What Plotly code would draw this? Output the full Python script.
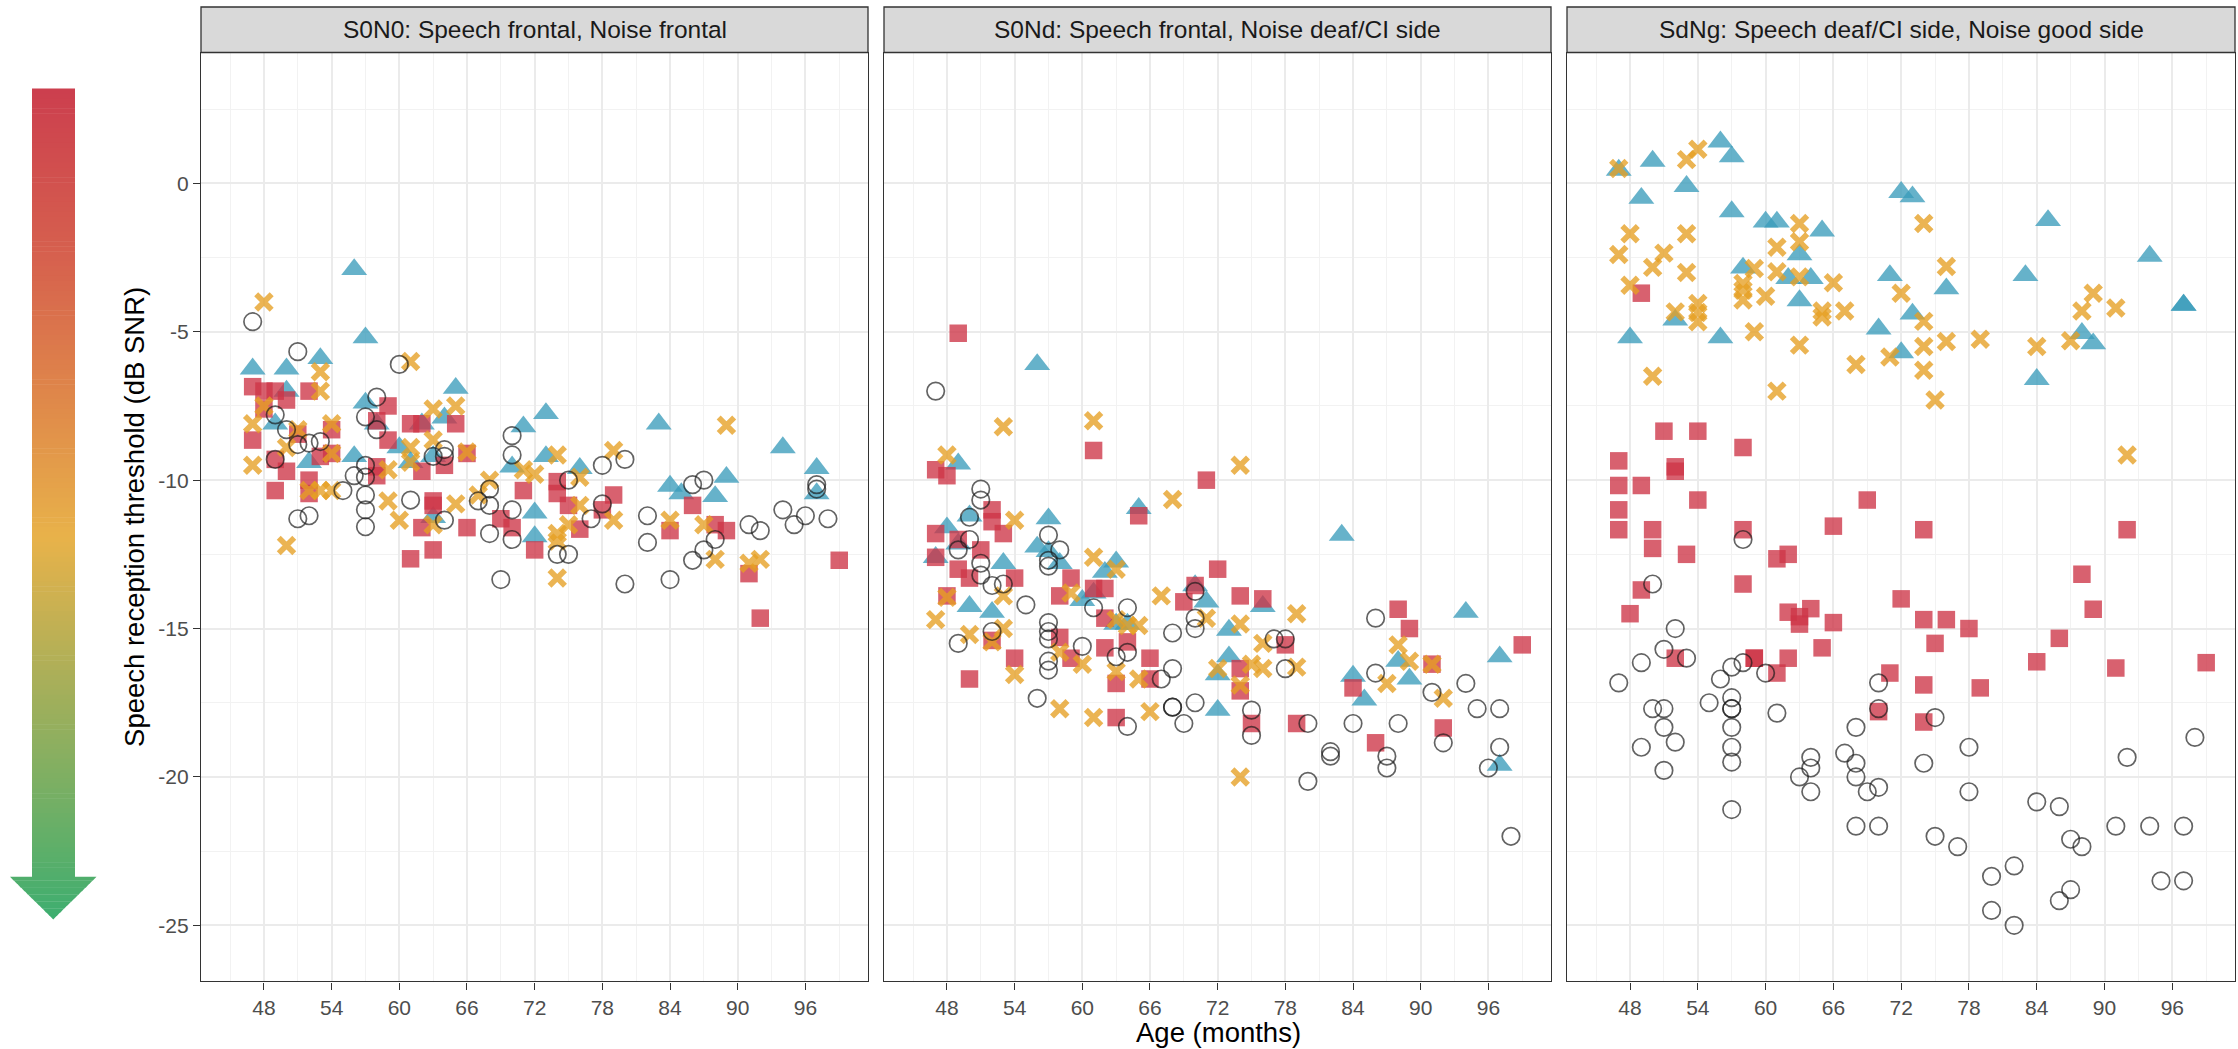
import plotly.graph_objects as go

W, H = 2238, 1049

# ---------------- data: (age in months, SRT in dB SNR) ----------------
panel_titles = ["S0N0: Speech frontal, Noise frontal",
                "S0Nd: Speech frontal, Noise deaf/CI side",
                "SdNg: Speech deaf/CI side, Noise good side"]

x_tickvals = [48, 54, 60, 66, 72, 78, 84, 90, 96]
x_ticktext = ["48", "54", "60", "66", "72", "78", "84", "90", "96"]
y_tickvals = [-25, -20, -15, -10, -5, 0]
y_ticktext = ["-25", "-20", "-15", "-10", "-5", "0"]

S0N0_squares = [(47,-6.85),(48,-7.0),(49,-7.0),(48,-7.6),(50,-7.3),(52,-7.0),(47,-8.65),(49,-9.3),(50,-9.7),(49,-10.35),
                (51,-8.45),(54,-8.3),(54,-9.1),(52,-10.0),(52,-10.45),(53,-9.2),(59,-7.5),(58,-8.0),(59,-8.65),(58,-9.55),
                (58,-9.85),(61,-8.1),(62,-8.1),(65,-8.1),(62,-9.7),(64,-9.5),(66,-9.1),(63,-10.7),(63,-10.85),(62,-11.6),
                (61,-12.65),(63,-12.35),(66,-11.6),(69,-11.3),(70,-11.6),(71,-10.35),(72,-12.35),(74,-10.05),(74,-10.45),(75,-10.85),
                (76,-11.65),(79,-10.5),(78,-11.0),(86,-10.85),(84,-11.7),(88,-11.5),(89,-11.7),(91,-13.15),(92,-14.65),(99,-12.7)]
S0N0_crosses = [(48,-4.0),(53,-6.35),(53,-7.0),(61,-6.0),(48,-7.5),(47,-8.1),(47,-9.5),(50,-8.9),(51,-8.3),(54,-8.1),
                (54,-9.1),(52,-10.35),(53,-10.35),(54,-10.35),(50,-12.2),(59,-9.65),(59,-10.7),(60,-11.35),(61,-8.9),(61,-9.4),
                (63,-7.6),(63,-8.65),(65,-7.5),(63,-11.5),(65,-10.8),(66,-9.05),(67,-10.5),(68,-10.0),(71,-9.65),(72,-9.8),
                (74,-9.15),(79,-9.0),(89,-8.15),(76,-9.9),(76,-10.85),(75,-11.5),(74,-11.8),(74,-12.05),(74,-13.3),(79,-11.35),
                (84,-11.35),(87,-11.5),(88,-12.67),(91,-12.8),(92,-12.67)]
S0N0_triangles = [(47,-6.25),(50,-6.25),(53,-5.9),(56,-2.9),(57,-5.2),(50,-7.0),(49,-8.1),(57,-7.4),(58,-8.1),(56,-9.2),
                  (52,-9.4),(60,-8.9),(62,-8.1),(64,-7.9),(65,-6.9),(63,-9.2),(61,-9.4),(70,-9.55),(71,-8.2),(73,-7.75),
                  (73,-9.2),(72,-11.1),(72,-11.9),(63,-11.25),(76,-9.6),(83,-8.1),(94,-8.9),(97,-9.6),(97,-10.45),(84,-10.2),
                  (85,-10.45),(89,-9.9),(88,-10.55)]
S0N0_circles = [(47,-4.66),(51,-5.67),(60,-6.1),(58,-7.2),(49,-7.8),(50,-8.3),(51,-8.8),(52,-8.75),(53,-8.7),(49,-9.3),
                (57,-7.87),(58,-8.3),(55,-10.35),(56,-9.85),(57,-9.5),(57,-9.9),(57,-10.5),(57,-11.0),(57,-11.57),(51,-11.3),
                (52,-11.2),(61,-10.67),(63,-9.2),(64,-8.97),(64,-9.2),(64,-11.35),(68,-10.3),(68,-10.85),(67,-10.7),(70,-8.5),
                (70,-9.15),(70,-11.0),(68,-11.8),(70,-12.0),(69,-13.35),(74,-12.5),(78,-9.5),(80,-9.3),(75,-10.0),(78,-10.8),
                (77,-11.3),(82,-11.2),(82,-12.1),(86,-10.15),(87,-10.0),(86,-12.7),(87,-12.35),(88,-12.0),(91,-11.5),(92,-11.7),
                (94,-11.0),(95,-11.5),(96,-11.2),(97,-10.15),(97,-10.3),(98,-11.3),(75,-12.5),(80,-13.5),(84,-13.35)]

S0Nd_squares = [(49,-5.05),(61,-9.0),(47,-9.65),(48,-9.85),(71,-10.0),(52,-11.0),(52,-11.4),(53,-11.8),(47,-11.8),(49,-12.0),
                (51,-12.35),(47,-12.6),(49,-13.0),(50,-13.3),(54,-13.3),(48,-13.9),(59,-13.3),(58,-13.9),(61,-13.65),(62,-13.65),
                (65,-11.2),(72,-13.0),(70,-13.55),(74,-13.9),(76,-14.0),(69,-14.1),(62,-14.65),(52,-15.4),(58,-15.3),(64,-15.45),
                (54,-16.0),(59,-16.0),(62,-15.65),(66,-16.0),(66,-16.7),(63,-16.85),(50,-16.7),(74,-16.35),(74,-17.1),(63,-18.0),
                (75,-18.2),(78,-15.55),(79,-18.2),(88,-14.35),(89,-15.0),(91,-16.2),(99,-15.55),(84,-17.0),(86,-18.85),(92,-18.35)]
S0Nd_crosses = [(53,-8.2),(61,-8.0),(48,-9.15),(74,-9.5),(54,-11.35),(68,-10.65),(61,-12.6),(63,-13.0),(47,-14.7),(48,-13.95),
                (50,-15.2),(52,-15.45),(53,-15.0),(53,-13.9),(54,-16.55),(58,-17.7),(61,-18.0),(59,-13.8),(60,-16.2),(58,-15.8),
                (63,-14.7),(64,-14.9),(65,-14.9),(63,-16.45),(65,-16.7),(66,-17.8),(67,-13.9),(71,-14.65),(72,-16.35),(74,-14.85),
                (76,-15.5),(76,-16.35),(75,-16.2),(79,-14.5),(79,-16.3),(74,-16.9),(74,-20.0),(88,-15.55),(89,-16.1),(91,-16.2),
                (87,-16.85),(92,-17.35)]
S0Nd_triangles = [(56,-6.1),(49,-9.45),(48,-11.6),(47,-12.6),(50,-11.2),(57,-11.3),(49,-12.15),(56,-12.25),(57,-12.4),(58,-12.8),
                  (53,-12.8),(50,-14.25),(52,-14.45),(60,-14.05),(61,-13.8),(62,-13.1),(63,-12.75),(65,-10.95),(70,-13.55),(71,-14.1),
                  (73,-15.05),(73,-15.95),(72,-16.55),(72,-17.75),(76,-14.25),(63,-14.85),(64,-14.85),(83,-11.85),(94,-14.45),(97,-15.95),
                  (88,-16.1),(89,-16.7),(84,-16.6),(85,-17.4),(97,-19.6)]
S0Nd_circles = [(47,-7.0),(51,-10.3),(51,-10.67),(50,-11.25),(50,-12.0),(49,-12.35),(51,-12.8),(51,-13.2),(52,-13.55),(53,-13.5),
                (57,-11.85),(58,-12.35),(57,-12.7),(57,-12.9),(55,-14.2),(57,-14.8),(57,-15.1),(57,-15.35),(57,-16.1),(57,-16.4),
                (49,-15.5),(52,-15.1),(60,-15.6),(61,-14.3),(64,-14.3),(63,-15.95),(64,-15.8),(68,-15.15),(67,-16.7),(68,-16.35),
                (70,-14.65),(70,-15.0),(70,-13.75),(56,-17.35),(64,-18.3),(68,-17.65),(68,-17.65),(70,-17.5),(69,-18.2),(75,-17.75),
                (75,-18.6),(77,-15.35),(78,-15.35),(78,-16.35),(80,-18.2),(80,-20.15),(82,-19.15),(82,-19.3),(84,-18.2),(86,-14.65),
                (86,-16.5),(87,-19.3),(87,-19.7),(88,-18.2),(91,-17.15),(92,-18.85),(94,-16.85),(95,-17.7),(97,-17.7),(97,-19.0),
                (96,-19.7),(98,-22.0)]

SdNg_squares = [(47,-9.35),(47,-10.18),(47,-11.0),(47,-11.67),(48,-14.5),(49,-3.7),(49,-10.18),(49,-13.7),(50,-11.67),(50,-12.3),
                (51,-8.35),(52,-9.55),(52,-9.7),(52,-16.0),(53,-12.5),(54,-8.35),(54,-10.67),(58,-8.9),(58,-11.67),(58,-13.5),
                (59,-16.0),(59,-16.0),(61,-12.65),(61,-16.5),(62,-12.5),(62,-14.45),(62,-16.0),(63,-14.6),(63,-14.85),(64,-14.33),
                (65,-15.65),(66,-11.55),(66,-14.8),(69,-10.67),(70,-17.8),(71,-16.5),(72,-14.0),(74,-11.67),(74,-14.7),(74,-16.9),
                (74,-18.15),(75,-15.5),(76,-14.7),(78,-15.0),(79,-17.0),(84,-16.12),(86,-15.33),(88,-13.17),(89,-14.35),(91,-16.33),
                (92,-11.67),(99,-16.15)]
SdNg_crosses = [(47,0.5),(47,-2.4),(48,-1.7),(48,-3.43),(50,-2.83),(50,-6.5),(51,-2.35),(52,-4.33),(53,0.8),(53,-1.7),
                (53,-3.0),(54,1.15),(54,-4.05),(54,-4.35),(54,-4.66),(58,-3.37),(58,-3.6),(58,-3.93),(59,-2.87),(59,-5.0),
                (60,-3.8),(61,-2.15),(61,-2.98),(61,-7.0),(63,-1.35),(63,-1.97),(63,-3.15),(63,-5.45),(65,-4.3),(65,-4.5),
                (66,-3.35),(67,-4.3),(68,-6.1),(71,-5.85),(72,-3.7),(74,-1.35),(74,-4.65),(74,-5.5),(74,-6.3),(75,-7.3),
                (76,-2.8),(76,-5.33),(79,-5.25),(84,-5.5),(87,-5.3),(88,-4.3),(89,-3.7),(91,-4.2),(92,-9.15)]
SdNg_triangles = [(47,0.45),(48,-5.2),(49,-0.5),(50,0.75),(52,-4.6),(53,-0.1),(56,1.4),(56,-5.2),(57,0.9),(57,-0.95),
                  (58,-2.85),(60,-1.3),(61,-1.3),(62,-3.2),(63,-2.4),(63,-3.95),(64,-3.2),(65,-1.6),(70,-4.9),(71,-3.1),
                  (72,-0.3),(72,-5.7),(73,-0.45),(73,-4.4),(76,-3.55),(83,-3.1),(84,-6.6),(85,-1.25),(88,-5.05),(89,-5.4),
                  (94,-2.45),(97,-4.1),(97,-4.1)]
SdNg_circles = [(47,-16.83),(49,-16.15),(49,-19.0),(50,-13.5),(50,-17.7),(51,-15.7),(51,-17.7),(51,-18.33),(51,-19.78),(52,-15.0),
                (52,-18.83),(53,-16.0),(55,-17.5),(56,-16.7),(57,-16.3),(57,-17.33),(57,-17.7),(57,-17.7),(57,-18.33),(57,-19.0),
                (57,-19.5),(57,-21.1),(58,-12.0),(58,-16.15),(60,-16.5),(61,-17.85),(63,-20.0),(64,-19.34),(64,-19.7),(64,-20.5),
                (67,-19.2),(68,-18.33),(68,-19.54),(68,-20.0),(68,-21.66),(69,-20.5),(70,-16.83),(70,-17.7),(70,-20.35),(70,-21.66),
                (74,-19.54),(75,-18.0),(75,-22.0),(77,-22.35),(78,-19.0),(78,-20.5),(80,-23.35),(80,-24.5),(82,-23.0),(82,-25.0),
                (84,-20.84),(86,-21.0),(86,-24.17),(87,-22.1),(87,-23.8),(88,-22.35),(91,-21.66),(92,-19.34),(94,-21.66),(95,-23.5),
                (97,-21.66),(97,-23.5),(98,-18.67)]

panels = [
    dict(triangles=S0N0_triangles, squares=S0N0_squares, crosses=S0N0_crosses, circles=S0N0_circles),
    dict(triangles=S0Nd_triangles, squares=S0Nd_squares, crosses=S0Nd_crosses, circles=S0Nd_circles),
    dict(triangles=SdNg_triangles, squares=SdNg_squares, crosses=SdNg_crosses, circles=SdNg_circles),
]

# ---------------- styling ----------------
FONT = "Liberation Sans, Arial, Helvetica, sans-serif"
RED, ORANGE, BLUE = "#CD3446", "#E69F22", "#3B9CBB"
ALPHA = 0.78

styles = {
    "triangles": dict(symbol="triangle-up", size=22.5, color=BLUE, opacity=ALPHA, line=dict(width=0, color=BLUE)),
    "squares":   dict(symbol="square", size=17.5, color=RED, opacity=ALPHA, line=dict(width=0, color=RED)),
    "crosses":   dict(symbol="x-thin-open", size=15.5, color=ORANGE, opacity=ALPHA, line=dict(width=5.6, color=ORANGE)),
    "circles":   dict(symbol="circle-open", size=17.5, color="rgba(25,25,25,0.68)", opacity=1,
                      line=dict(width=1.7, color="rgba(25,25,25,0.68)")),
}
order = ["triangles", "squares", "crosses", "circles"]

# panel geometry in pixels
panel_px = [(201, 868), (884, 1551), (1567, 2235)]
ptop, pbot = 52.5, 981.4
strip_top = 7.0

def px_x(p):
    return p / W

def px_y(p):
    return 1 - p / H

fig = go.Figure()

for i, pdata in enumerate(panels):
    xa = "x" if i == 0 else f"x{i+1}"
    ya = "y" if i == 0 else f"y{i+1}"
    for g in order:
        pts = pdata[g]
        st = styles[g]
        fig.add_trace(go.Scatter(
            x=[p[0] for p in pts], y=[p[1] for p in pts],
            mode="markers", xaxis=xa, yaxis=ya, showlegend=False, hoverinfo="skip",
            marker=dict(symbol=st["symbol"], size=st["size"], color=st["color"],
                        opacity=st["opacity"], line=st["line"]),
        ))

GRID_MAJ = "#EBEBEB"
GRID_MIN = "#F2F2F2"
AX_LINE = "#333333"

layout_axes = {}
for i, (x0, x1) in enumerate(panel_px):
    xk = "xaxis" if i == 0 else f"xaxis{i+1}"
    yk = "yaxis" if i == 0 else f"yaxis{i+1}"
    yref = "y" if i == 0 else f"y{i+1}"
    xref = "x" if i == 0 else f"x{i+1}"
    layout_axes[xk] = dict(
        domain=[px_x(x0), px_x(x1)], anchor=yref, range=[42.42, 101.55],
        tickmode="array", tickvals=x_tickvals, ticktext=x_ticktext,
        showgrid=True, gridcolor=GRID_MAJ, gridwidth=2.0, zeroline=False,
        minor=dict(tick0=48, dtick=3, showgrid=True, gridcolor=GRID_MIN, gridwidth=1.2, ticks=""),
        showline=True, mirror=True, linecolor=AX_LINE, linewidth=1.3,
        ticks="outside", ticklen=7, tickwidth=1.3, tickcolor=AX_LINE,
        tickfont=dict(family=FONT, size=21, color="#4D4D4D"),
        fixedrange=True,
    )
    ydict = dict(
        domain=[px_y(pbot), px_y(ptop)], anchor=xref, range=[-26.89, 4.41],
        tickmode="array", tickvals=y_tickvals, ticktext=y_ticktext,
        showgrid=True, gridcolor=GRID_MAJ, gridwidth=2.0, zeroline=False,
        minor=dict(tick0=0, dtick=2.5, showgrid=True, gridcolor=GRID_MIN, gridwidth=1.2, ticks=""),
        showline=True, mirror=True, linecolor=AX_LINE, linewidth=1.3,
        fixedrange=True,
    )
    if i == 0:
        ydict.update(ticks="outside", ticklen=7, tickwidth=1.3, tickcolor=AX_LINE,
                     tickfont=dict(family=FONT, size=21, color="#4D4D4D"))
    else:
        ydict.update(matches="y", showticklabels=False, ticks="")
    layout_axes[yk] = ydict

shapes = []
annotations = []

# facet strips
for (x0, x1), title in zip(panel_px, panel_titles):
    shapes.append(dict(type="rect", xref="paper", yref="paper",
                       x0=px_x(x0), x1=px_x(x1), y0=px_y(ptop), y1=px_y(strip_top),
                       fillcolor="#D9D9D9", line=dict(color=AX_LINE, width=1.3), layer="above"))
    annotations.append(dict(text=title, xref="paper", yref="paper",
                            x=px_x((x0 + x1) / 2), y=px_y((strip_top + ptop) / 2),
                            xanchor="center", yanchor="middle", showarrow=False,
                            font=dict(family=FONT, size=24.5, color="#1A1A1A")))

# axis titles
annotations.append(dict(text="Age (months)", xref="paper", yref="paper",
                        x=px_x((201 + 2235) / 2), y=px_y(1032), xanchor="center", yanchor="middle",
                        showarrow=False, font=dict(family=FONT, size=27.5, color="#000000")))
annotations.append(dict(text="Speech reception threshold (dB SNR)", xref="paper", yref="paper",
                        x=px_x(135), y=px_y((ptop + pbot) / 2), xanchor="center", yanchor="middle",
                        textangle=-90, showarrow=False,
                        font=dict(family=FONT, size=27.5, color="#000000")))

# gradient arrow (decoration, red = worse at top, green = better at bottom)
stops = [(0.0, "#CC3F4E"), (0.2, "#D6604E"), (0.37, "#DF874A"), (0.54, "#E8B24A"),
         (0.72, "#A6AF5A"), (0.86, "#73AF65"), (1.0, "#3DAE70")]

def hex2rgb(h):
    h = h.lstrip("#")
    return tuple(int(h[k:k + 2], 16) for k in (0, 2, 4))

def grad(f):
    f = min(max(f, 0.0), 1.0)
    for (f0, c0), (f1, c1) in zip(stops[:-1], stops[1:]):
        if f0 <= f <= f1:
            t = (f - f0) / (f1 - f0) if f1 > f0 else 0
            a, b = hex2rgb(c0), hex2rgb(c1)
            return "rgb(%d,%d,%d)" % tuple(round(a[k] + (b[k] - a[k]) * t) for k in range(3))
    return stops[-1][1]

arr_top, bar_bot, tip = 88.5, 877.0, 919.5
bar_x0, bar_x1 = 32.0, 75.0
head_x0, head_x1 = 10.0, 96.5
cx = (head_x0 + head_x1) / 2
n = 160
step = (bar_bot - arr_top) / n
for k in range(n):
    ya = arr_top + k * step
    yb = ya + step + 0.6
    col = grad((ya + step / 2 - arr_top) / (tip - arr_top))
    shapes.append(dict(type="rect", xref="paper", yref="paper",
                       x0=px_x(bar_x0), x1=px_x(bar_x1), y0=px_y(min(yb, bar_bot + 0.5)), y1=px_y(ya),
                       fillcolor=col, line=dict(width=0), layer="above"))
nh = 12
hw0 = (head_x1 - head_x0) / 2
for k in range(nh):
    ya = bar_bot + k * (tip - bar_bot) / nh
    yb = bar_bot + (k + 1) * (tip - bar_bot) / nh
    wa = hw0 * (tip - ya) / (tip - bar_bot)
    wb = hw0 * (tip - yb) / (tip - bar_bot)
    col = grad(((ya + yb) / 2 - arr_top) / (tip - arr_top))
    path = "M %f,%f L %f,%f L %f,%f L %f,%f Z" % (
        px_x(cx - wa), px_y(ya - 0.3), px_x(cx + wa), px_y(ya - 0.3),
        px_x(cx + wb), px_y(yb), px_x(cx - wb), px_y(yb))
    shapes.append(dict(type="path", xref="paper", yref="paper", path=path,
                       fillcolor=col, line=dict(width=0), layer="above"))

fig.update_layout(
    width=W, height=H, autosize=False,
    margin=dict(l=0, r=0, t=0, b=0, pad=0),
    paper_bgcolor="white", plot_bgcolor="white",
    showlegend=False, shapes=shapes, annotations=annotations,
    font=dict(family=FONT),
    **layout_axes,
)

fig.write_html("out.html", include_plotlyjs=True,
               config={"displayModeBar": False, "responsive": False},
               post_script="document.body.style.margin='0';document.body.style.padding='0';"
                           "document.documentElement.style.overflow='hidden';document.body.style.overflow='hidden';")
